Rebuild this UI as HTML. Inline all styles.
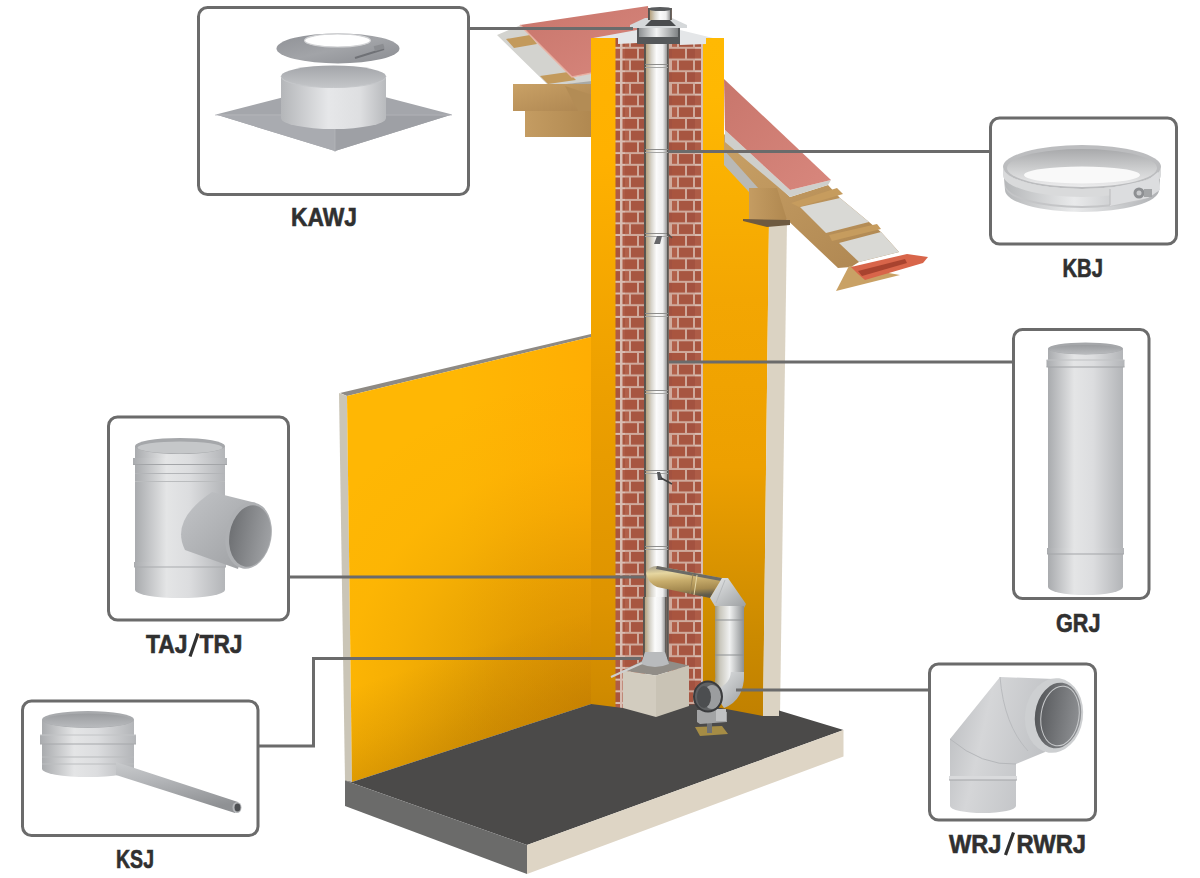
<!DOCTYPE html>
<html><head><meta charset="utf-8">
<style>
html,body{margin:0;padding:0;background:#fff;}
body{width:1200px;height:878px;overflow:hidden;position:relative;}
svg{position:absolute;left:0;top:0;}
</style></head>
<body>
<svg width="1200" height="878" viewBox="0 0 1200 878">
<defs>
  <linearGradient id="yel" x1="0" y1="0" x2="0" y2="1">
    <stop offset="0" stop-color="#fdb911"/><stop offset="1" stop-color="#f2a30c"/>
  </linearGradient>
  <pattern id="brick" x="0" y="2" width="24" height="23.4" patternUnits="userSpaceOnUse">
    <rect width="24" height="23.4" fill="#cfaa9c"/>
    <rect x="0" y="0" width="13" height="9.7" fill="#a9553f"/>
    <rect x="15" y="0" width="9" height="9.7" fill="#a35240"/>
    <rect x="0" y="11.7" width="5" height="9.7" fill="#b1604a"/>
    <rect x="7" y="11.7" width="14" height="9.7" fill="#a75641"/>
  </pattern>
  <linearGradient id="pipe" x1="0" y1="0" x2="1" y2="0">
    <stop offset="0" stop-color="#55524e"/><stop offset="0.06" stop-color="#5a5751"/>
    <stop offset="0.1" stop-color="#b9a684"/><stop offset="0.3" stop-color="#d8d5cc"/>
    <stop offset="0.5" stop-color="#fbfbfb"/><stop offset="0.75" stop-color="#eeeeee"/>
    <stop offset="0.9" stop-color="#a3a3a3"/><stop offset="0.94" stop-color="#5b5855"/>
    <stop offset="1" stop-color="#7d6d63"/>
  </linearGradient>
  <linearGradient id="yelL" gradientUnits="userSpaceOnUse" x1="420" y1="520" x2="560" y2="740">
    <stop offset="0" stop-color="#ffb604"/><stop offset="0.3" stop-color="#f8ae02"/><stop offset="0.6" stop-color="#e09a00"/>
    <stop offset="0.85" stop-color="#cc8a00"/><stop offset="1" stop-color="#c48300"/>
  </linearGradient>
  <linearGradient id="yelR" gradientUnits="userSpaceOnUse" x1="0" y1="38" x2="0" y2="720">
    <stop offset="0" stop-color="#ffb903"/><stop offset="0.085" stop-color="#ffb802"/><stop offset="0.384" stop-color="#f3a602"/>
    <stop offset="0.629" stop-color="#eda000"/><stop offset="0.878" stop-color="#cb8a00"/><stop offset="1" stop-color="#c08000"/>
  </linearGradient>
  <linearGradient id="wood" x1="0" y1="0" x2="1" y2="1">
    <stop offset="0" stop-color="#c9a166"/><stop offset="1" stop-color="#ad8550"/>
  </linearGradient>
  <linearGradient id="wood2" x1="0" y1="0" x2="1" y2="0">
    <stop offset="0" stop-color="#c49c62"/><stop offset="1" stop-color="#b08850"/>
  </linearGradient>
  <linearGradient id="tile" x1="0" y1="0" x2="1" y2="1">
    <stop offset="0" stop-color="#c8766c"/><stop offset="1" stop-color="#d8877d"/>
  </linearGradient>
  <pattern id="brickS" x="0" y="2" width="9" height="23.4" patternUnits="userSpaceOnUse">
    <rect width="9" height="23.4" fill="#d8bdb2"/>
    <rect x="1.5" y="0" width="6.5" height="9.7" fill="#ae5c47"/>
    <rect x="1.5" y="11.7" width="6.5" height="9.7" fill="#a8553f"/>
  </pattern>
  <linearGradient id="boxg" x1="0" y1="0" x2="1" y2="0">
    <stop offset="0" stop-color="#d8d0c3"/><stop offset="1" stop-color="#c6bdb0"/>
  </linearGradient>
  <linearGradient id="gold" x1="0" y1="0" x2="0.15" y2="1">
    <stop offset="0" stop-color="#a39e8c"/><stop offset="0.25" stop-color="#e6d6a0"/>
    <stop offset="0.5" stop-color="#c8ad6c"/><stop offset="0.8" stop-color="#a58a50"/><stop offset="1" stop-color="#5f5a4c"/>
  </linearGradient>
  <linearGradient id="elb" x1="0" y1="0" x2="1" y2="1">
    <stop offset="0" stop-color="#e8eaeb"/><stop offset="1" stop-color="#9a9d9f"/>
  </linearGradient>
  <linearGradient id="pipeV" x1="0" y1="0" x2="1" y2="0">
    <stop offset="0" stop-color="#8a7a4a"/><stop offset="0.25" stop-color="#c9c7bd"/>
    <stop offset="0.55" stop-color="#f0f1f1"/><stop offset="1" stop-color="#8d9092"/>
  </linearGradient>
  <linearGradient id="yelC" gradientUnits="userSpaceOnUse" x1="0" y1="38" x2="0" y2="710">
    <stop offset="0" stop-color="#ffb302"/><stop offset="0.177" stop-color="#ffb100"/><stop offset="0.539" stop-color="#ec9f00"/>
    <stop offset="0.836" stop-color="#de9400"/><stop offset="0.97" stop-color="#d08b00"/><stop offset="1" stop-color="#cc8800"/>
  </linearGradient>
  <linearGradient id="silH" x1="0" y1="0" x2="1" y2="0">
    <stop offset="0" stop-color="#a9abae"/><stop offset="0.35" stop-color="#e4e5e6"/>
    <stop offset="0.6" stop-color="#dcdddf"/><stop offset="1" stop-color="#b3b5b8"/>
  </linearGradient>
  <linearGradient id="silH2" x1="0" y1="0" x2="1" y2="0">
    <stop offset="0" stop-color="#b4b6b8"/><stop offset="0.45" stop-color="#e9eaeb"/>
    <stop offset="1" stop-color="#aeb0b3"/>
  </linearGradient>
  <linearGradient id="silDisc" x1="0" y1="0" x2="1" y2="1">
    <stop offset="0" stop-color="#8f9196"/><stop offset="0.5" stop-color="#a2a4a8"/><stop offset="1" stop-color="#8a8c91"/>
  </linearGradient>
  <linearGradient id="silBr" x1="0" y1="0" x2="1" y2="1">
    <stop offset="0" stop-color="#c3c5c8"/><stop offset="1" stop-color="#9c9ea1"/>
  </linearGradient>
  <linearGradient id="silE" x1="0" y1="0" x2="1" y2="1">
    <stop offset="0" stop-color="#c3c5c7"/><stop offset="0.5" stop-color="#dcdde0"/><stop offset="1" stop-color="#a8aaad"/>
  </linearGradient>
  <linearGradient id="kbjIn" x1="0" y1="0" x2="0" y2="1">
    <stop offset="0" stop-color="#a8a9ab"/><stop offset="0.55" stop-color="#cfd0d1"/><stop offset="1" stop-color="#ececed"/>
  </linearGradient>
  <linearGradient id="pipe2" x1="0" y1="0" x2="1" y2="0">
    <stop offset="0" stop-color="#8d9092"/><stop offset="0.45" stop-color="#f2f3f3"/><stop offset="1" stop-color="#7f8284"/>
  </linearGradient>
  <linearGradient id="drain" x1="0" y1="0" x2="0.25" y2="1">
    <stop offset="0" stop-color="#c9cbcd"/><stop offset="0.4" stop-color="#b4b6b9"/><stop offset="1" stop-color="#8f9194"/>
  </linearGradient>
  <linearGradient id="silW" x1="0" y1="0" x2="1" y2="0.3">
    <stop offset="0" stop-color="#b9bbbe"/><stop offset="0.4" stop-color="#d5d6d8"/><stop offset="1" stop-color="#bfc1c4"/>
  </linearGradient>
  <linearGradient id="wrjIn" x1="0" y1="0" x2="1" y2="0">
    <stop offset="0" stop-color="#55575a"/><stop offset="1" stop-color="#8f9194"/>
  </linearGradient>
  <linearGradient id="tajIn" x1="0" y1="0" x2="1" y2="0">
    <stop offset="0" stop-color="#6f7174"/><stop offset="1" stop-color="#9fa1a4"/>
  </linearGradient>
  <linearGradient id="silK" x1="0" y1="0" x2="1" y2="0">
    <stop offset="0" stop-color="#b4b6b9"/><stop offset="0.45" stop-color="#e6e7e9"/>
    <stop offset="0.75" stop-color="#dedfe1"/><stop offset="1" stop-color="#b8babd"/>
  </linearGradient>
  <linearGradient id="kawIn" x1="0" y1="0" x2="0" y2="1">
    <stop offset="0" stop-color="#a3a5a9"/><stop offset="1" stop-color="#c4c6c9"/>
  </linearGradient>
  <linearGradient id="grjIn" x1="0" y1="0" x2="0" y2="1">
    <stop offset="0" stop-color="#9a9c9f"/><stop offset="1" stop-color="#b9bbbe"/>
  </linearGradient>
  <linearGradient id="aoFloor" gradientUnits="userSpaceOnUse" x1="470" y1="743.5" x2="442.1" y2="657.9">
    <stop offset="0" stop-color="#8c5500" stop-opacity="0.28"/><stop offset="0.4" stop-color="#8c5500" stop-opacity="0.15"/>
    <stop offset="1" stop-color="#8c5500" stop-opacity="0"/>
  </linearGradient>
  <radialGradient id="aoCorner" gradientUnits="userSpaceOnUse" cx="591" cy="705" r="330">
    <stop offset="0" stop-color="#8c5500" stop-opacity="0.36"/><stop offset="0.3" stop-color="#8c5500" stop-opacity="0.25"/>
    <stop offset="0.6" stop-color="#8c5500" stop-opacity="0.08"/><stop offset="0.75" stop-color="#8c5500" stop-opacity="0.02"/>
    <stop offset="1" stop-color="#8c5500" stop-opacity="0"/>
  </radialGradient>
  <linearGradient id="orR" gradientUnits="userSpaceOnUse" x1="460" y1="0" x2="591" y2="0">
    <stop offset="0" stop-color="#ff9a00" stop-opacity="0"/><stop offset="1" stop-color="#ff9a00" stop-opacity="0.32"/>
  </linearGradient>
</defs>

<!-- ===== ILLUSTRATION ===== -->
<g id="illus">
  <!-- ===== LEFT ROOF ===== -->
  <polygon points="497,35 521,25 575,77 592,73 592,82 549,86" fill="#d3d3cf"/>
  <polygon points="549,86 592,81 592,84 551,88" fill="#a9a9a5"/>
  <polygon points="506,39 530,35 537,44 514,48" fill="#c39a5c"/>
  <polygon points="540,76 568,72 576,80 548,84" fill="#c39a5c"/>
  <polygon points="513,84 592,84 592,111 513,111" fill="url(#wood)"/>
  <polygon points="525,111 592,111 592,137 525,137" fill="url(#wood2)"/>
  <polygon points="565,86 592,95 592,111 578,111" fill="#b38c55"/>
  <polygon points="520,25 648,6 650,38 592,38 592,73 572,77" fill="url(#tile)"/>
  <polyline points="520,25 572,77 592,73" fill="none" stroke="#e8b0a2" stroke-width="1.5"/>

  <!-- left wall -->
  <polygon points="340,393 591,334 591,337 347,396" fill="#8e8a84"/>
  <polygon points="339,393 347,396 352,782 345,781" fill="#cac5b7"/>
  <polygon points="347,396 591,337 591,704 352,782" fill="#ffb704"/>
  <polygon points="347,396 591,337 591,704 352,782" fill="url(#aoFloor)"/>
  <polygon points="347,396 591,337 591,704 352,782" fill="url(#orR)"/>
  <polygon points="347,396 591,337 591,704 352,782" fill="url(#aoCorner)"/>

  <!-- ===== RIGHT ROOF ===== -->
  <polygon points="702,38 724,38 724,163 749,189 749,221 769,222 763,725 702,725" fill="url(#yelR)"/>
  <polygon points="769,221 787,221 780,716 763,716" fill="#dbd3c3"/>
  <!-- rafter -->
  <polygon points="724,134 790,197 828,185 840,198 869,222 881,232 899,252 859,262 851,267 838,268 724,160" fill="url(#wood)"/>
  <polygon points="724,150 759,189 749,192 724,165" fill="#b9b9b6"/>
  <polygon points="836,291 849,266 900,275" fill="#c9a165"/>
  <!-- wall plate -->
  <polygon points="749,188 777,188 787,220 749,220" fill="url(#wood2)"/>
  <polygon points="743,219 790,220 790,225 767,227 743,221" fill="#6e5a40"/>
  <!-- panels & battens -->
  <polygon points="800,207 840,198 869,222 826,233" fill="#d9d9d5"/>
  <polygon points="839,243 881,232 899,252 859,262" fill="#d9d9d5"/>
  <polygon points="791,203 837,188 843,194 799,207" fill="#c69c5e"/>
  <polygon points="829,235 877,224 881,229 832,241" fill="#c69c5e"/>
  <!-- underlayer + tiles -->
  <polygon points="725,130 790,190 831,180 828,185 790,197 725,142" fill="#cfcfcb"/>
  <polygon points="724,79 831,180 790,190 725,130" fill="url(#tile)"/>
  <!-- gutter -->
  <polygon points="851,267 907,254 928,257 923,263 865,280 858,274" fill="#d8654a"/>
  <polygon points="858,271 905,259 907,263 862,276" fill="#a8432f"/>

  <!-- chimney -->
  <rect x="591" y="38" width="25" height="680" fill="url(#yelC)"/>
  <rect x="615.5" y="38" width="9.5" height="680" fill="url(#brickS)"/>
  <rect x="625" y="38" width="20" height="680" fill="url(#brick)"/>
  <rect x="668" y="38" width="27" height="680" fill="url(#brick)"/>
  <rect x="695" y="38" width="8" height="680" fill="url(#brickS)"/>
  <rect x="644" y="38" width="25" height="630" fill="url(#pipe)"/>
  <rect x="645" y="64" width="23" height="1" fill="#8e8e8c"/>
  <rect x="645" y="67" width="23" height="1" fill="#a5a5a3"/>
  <rect x="645" y="149" width="23" height="1" fill="#8e8e8c"/>
  <rect x="645" y="152" width="23" height="1" fill="#a5a5a3"/>
  <rect x="645" y="233" width="23" height="1" fill="#8e8e8c"/>
  <rect x="645" y="236" width="23" height="1" fill="#a5a5a3"/>
  <rect x="645" y="313" width="23" height="1" fill="#8e8e8c"/>
  <rect x="645" y="316" width="23" height="1" fill="#a5a5a3"/>
  <rect x="645" y="390" width="23" height="1" fill="#8e8e8c"/>
  <rect x="645" y="393" width="23" height="1" fill="#a5a5a3"/>
  <rect x="645" y="470" width="23" height="1" fill="#8e8e8c"/>
  <rect x="645" y="473" width="23" height="1" fill="#a5a5a3"/>
  <rect x="645" y="546" width="23" height="1" fill="#8e8e8c"/>
  <rect x="645" y="549" width="23" height="1" fill="#a5a5a3"/>
  <polygon points="657,236 662,236 660,244 654,244" fill="#66676a"/>
  <line x1="667" y1="233" x2="672" y2="238" stroke="#55524e" stroke-width="1.5"/>
  <polygon points="657,472 660,472 663,480 658,480" fill="#55575a"/>
  <line x1="661" y1="478" x2="672" y2="484" stroke="#3f3f3f" stroke-width="1.5"/>


  <!-- chimney top -->
  <polygon points="593,38 637,30 637,43 618,44 618,38" fill="#e4e6e8"/>
  <polygon points="680,30 713,38 706,38 706,44 680,45" fill="#e4e6e8"/>
  <rect x="637" y="27.5" width="43" height="16.5" fill="#55585a"/>
  <rect x="639" y="28" width="39" height="9" fill="url(#pipe2)"/>
  <polygon points="630,25 645,18 672,18 687,25 687,28 630,28" fill="#d5d8da"/>
  <polygon points="651,20 670,20 676,26 645,26" fill="#4a4c4e"/>
  <rect x="648" y="8" width="24" height="12" fill="url(#pipe)"/>
  <ellipse cx="660" cy="9" rx="12" ry="2" fill="#595b5d"/>

  <!-- floor -->
  <polygon points="345,780.5 352,782 591,704 623,708 700,704 763,716 779,716 779,710.5 843.5,730 527,845" fill="#4b4a49"/>
  <polygon points="345,780.5 527,845 527,874 345,806" fill="#6b6b6a"/>
  <polygon points="527,845 843.5,730 843.5,756.5 527,874" fill="#ded5c5"/>
  <!-- base box -->
  <polygon points="623,670.5 650,657 689,665.5 656,675.5" fill="#918d87"/>
  <polygon points="623,670.5 656,675.5 656,717 623,708" fill="#d2ccbf"/>
  <polygon points="656,675.5 689,665.5 689,706 656,717" fill="#c9c3b5"/>
  <!-- lower main pipe -->
  <rect x="643" y="597" width="24" height="60" fill="url(#pipe)"/>
  <path d="M645,652 L665,652 L669,664 Q655,670 641,664 Z" fill="#b9bbbd"/>
  <line x1="611" y1="677" x2="642" y2="663" stroke="#d0d0d0" stroke-width="2"/>
  <!-- tee branch (gold) -->
  <path d="M646,573 Q649,566 657,566 L722,578 L710,598 L657,587 Q648,583 646,573 Z" fill="url(#gold)"/>
  <path d="M657,566 L722,578 L721,581 L656,569 Z" fill="#6b6a66"/>
  <line x1="693" y1="574" x2="690" y2="594" stroke="#9a8555" stroke-width="1"/>
  <line x1="697" y1="575" x2="694" y2="595" stroke="#e6d8a8" stroke-width="1"/>
  <!-- elbow -->
  <polygon points="722,578 728,578 746,604 744,608 716,608 710,598" fill="url(#elb)"/>
  <line x1="725" y1="580" x2="716" y2="603" stroke="#b7babc" stroke-width="1"/>
  <!-- vertical pipe -->
  <path d="M715,606 L744,606 L744,680 Q740,698 727,705 L712,690 Q716,684 715,670 Z" fill="url(#pipeV)"/>
  <line x1="715" y1="620" x2="744" y2="620" stroke="#8d9092" stroke-width="1"/>
  <line x1="715" y1="655" x2="744" y2="655" stroke="#8d9092" stroke-width="1"/>
  <!-- boot -->
  <polygon points="695,727 722,726 728,734 700,736" fill="#a58c45"/>
  <rect x="707" y="718" width="5" height="15" fill="#6f7173"/>
  <polygon points="697,710 718,709 727,712 727,722 700,724 697,722" fill="#a3a4a5"/>
  <rect x="716" y="709" width="10" height="12" fill="#c0c1c2"/>
  <path d="M744,672 Q745,700 724,708 L712,690 Q730,686 731,672 Z" fill="url(#elb)"/>
  <ellipse cx="708" cy="696.5" rx="14" ry="15" fill="#5f6163"/>
  <ellipse cx="712" cy="697" rx="9" ry="12" fill="#9b9d9f"/>
  <ellipse cx="704" cy="697" rx="7" ry="11" fill="#4c4e50"/>
  <ellipse cx="708" cy="696.5" rx="14" ry="15" fill="none" stroke="#3a3b3d" stroke-width="2"/>
</g>


<!-- ===== PRODUCTS ===== -->
<g id="products">
  <!-- KAWJ -->
  <polygon points="216,114.6 335,84 452,114.6 335,151" fill="#a4a6ab"/>
  <polygon points="216,114.6 335,114.6 335,151" fill="#a9abb0"/>
  <polygon points="335,114.6 452,114.6 335,151" fill="#9ea0a5"/>
  <line x1="215" y1="115" x2="452" y2="115" stroke="#b6b8bc" stroke-width="0.8"/>
  <line x1="335" y1="115" x2="335" y2="152" stroke="#b3b5b9" stroke-width="0.8"/>
  <path d="M281,76.5 L386,76.5 L386,118 A52.5,11 0 0 1 281,118 Z" fill="url(#silK)"/>
  <path d="M281,76.5 A52.5,11 0 0 1 386,76.5 A52.5,11 0 0 1 281,76.5 Z" fill="url(#kawIn)"/>
  <path d="M281,76.5 A52.5,11 0 0 0 386,76.5" fill="none" stroke="#c5c7ca" stroke-width="1"/>
  <ellipse cx="338" cy="48.4" rx="61.5" ry="15" fill="url(#silDisc)"/>
  <ellipse cx="337.5" cy="40.5" rx="33" ry="6.5" fill="#ffffff"/>
  <ellipse cx="337.5" cy="40.5" rx="33" ry="6.5" fill="none" stroke="#d2d3d5" stroke-width="1.2"/>
  <line x1="355" y1="58" x2="384" y2="49" stroke="#6f7176" stroke-width="2"/>
  <rect x="374" y="45" width="10" height="5" fill="#8b8d91" transform="rotate(-15 379 47)"/>

  <!-- KBJ -->
  <path d="M1003,167 A79,22 0 0 0 1161,167 L1159,190 A77,22 0 0 1 1005,190 Z" fill="url(#silH2)"/>
  <ellipse cx="1082" cy="167" rx="79" ry="22" fill="#bcbdbf"/>
  <ellipse cx="1082" cy="168" rx="75" ry="19" fill="url(#kbjIn)"/>
  <ellipse cx="1082" cy="175" rx="58" ry="8.5" fill="#f9f9f9"/>
  <path d="M1003,167 A79,22 0 0 0 1161,167 L1161,175 A79,22 0 0 1 1003,175 Z" fill="#d9dadb"/>
  <path d="M1005,184 A77,22 0 0 0 1159,184 L1159,186 A77,22 0 0 1 1005,186 Z" fill="#c4c5c7"/>
  <polygon points="1110,188 1148,180 1158,172 1160,190 1148,198 1110,206" fill="#dcdddf"/>
  <line x1="1110" y1="189" x2="1110" y2="205" stroke="#b9babc" stroke-width="1"/>
  <circle cx="1139" cy="193" r="5.5" fill="#8d8f92"/>
  <circle cx="1139" cy="193" r="2.5" fill="#c9cacc"/>
  <rect x="1144" y="189" width="8" height="8" fill="#a3a5a7"/>
  <!-- GRJ -->
  <path d="M1048,348.5 L1123,348.5 L1123,587 A37.5,8 0 0 1 1048,587 Z" fill="url(#silH)"/>
  <rect x="1046.5" y="360" width="78" height="7" fill="url(#silH)"/>
  <line x1="1046.5" y1="367" x2="1124.5" y2="367" stroke="#a2a4a7" stroke-width="1"/>
  <line x1="1046.5" y1="360" x2="1124.5" y2="360" stroke="#c0c2c4" stroke-width="1"/>
  <rect x="1047" y="548" width="77" height="6" fill="url(#silH)"/>
  <line x1="1047" y1="554" x2="1124" y2="554" stroke="#a3a5a8" stroke-width="1"/>
  <ellipse cx="1085.5" cy="348.5" rx="37.5" ry="6" fill="#a5a7aa"/>
  <ellipse cx="1085.5" cy="349.5" rx="35.5" ry="4.5" fill="url(#grjIn)"/>
  <!-- TAJ -->
  <path d="M135,446 L225,446 L225,590 A45,8 0 0 1 135,590 Z" fill="url(#silH)"/>
  <rect x="133" y="458" width="94" height="6" fill="url(#silH)"/>
  <line x1="133" y1="464.5" x2="227" y2="464.5" stroke="#a3a5a8" stroke-width="1"/>
  <line x1="135" y1="473.5" x2="225" y2="473.5" stroke="#b3b5b8" stroke-width="1"/>
  <line x1="135" y1="481.5" x2="225" y2="481.5" stroke="#babcbe" stroke-width="1"/>
  <rect x="134" y="562" width="92" height="5" fill="url(#silH)"/>
  <line x1="134" y1="567" x2="226" y2="567" stroke="#a9abae" stroke-width="1"/>
  <ellipse cx="180" cy="446" rx="45" ry="8" fill="#a5a7aa"/>
  <ellipse cx="180" cy="447.5" rx="42.5" ry="6" fill="#c5c7c9"/>
  <path d="M212,492 L256,503 L238,569 L185,550 Q170,520 212,492 Z" fill="url(#silBr)"/>
  <ellipse cx="248.5" cy="535.5" rx="23" ry="33.5" transform="rotate(10 248.5 535.5)" fill="#aeb0b3"/>
  <ellipse cx="250" cy="536" rx="20.5" ry="31" transform="rotate(10 250 536)" fill="url(#tajIn)"/>
  <!-- KSJ -->
  <path d="M42,719.5 L134,719.5 L134,769 A46,8 0 0 1 42,769 Z" fill="url(#silH)"/>
  <rect x="40" y="735" width="96" height="9" fill="url(#silH)"/>
  <line x1="40" y1="735" x2="136" y2="735" stroke="#c2c4c6" stroke-width="1"/>
  <line x1="40" y1="744" x2="136" y2="744" stroke="#a6a8ab" stroke-width="1"/>
  <line x1="42" y1="757" x2="134" y2="757" stroke="#b9bbbd" stroke-width="1"/>
  <line x1="42" y1="764" x2="134" y2="764" stroke="#bcbec0" stroke-width="1"/>
  <ellipse cx="88" cy="719.5" rx="46" ry="8.5" fill="#a8aaad"/>
  <ellipse cx="88" cy="720.5" rx="44" ry="7" fill="url(#grjIn)"/>
  <polygon points="116,762 238,802 235,813 116,775" fill="url(#drain)"/>
  <ellipse cx="237" cy="807.5" rx="4.5" ry="5.5" fill="#b5b7ba"/>
  <ellipse cx="237.5" cy="807.5" rx="3" ry="4" fill="#4e5053"/>
  <!-- WRJ -->
  <path d="M950,806 L950,739 L1000,677 L1054,679 L1045,752 L1016,764 L1016,806 A33,7 0 0 1 950,806 Z" fill="url(#silW)"/>
  <path d="M950,739 Q982,766 1016,764" fill="none" stroke="#b5b7ba" stroke-width="1"/>
  <path d="M1000,677 Q1004,725 1028,751" fill="none" stroke="#b9bbbe" stroke-width="1"/>
  <rect x="949" y="776" width="68" height="4" fill="#d9dadc"/>
  <line x1="949" y1="780" x2="1017" y2="780" stroke="#a3a5a8" stroke-width="1"/>
  <ellipse cx="1054" cy="715.5" rx="29" ry="37.5" transform="rotate(8 1054 715.5)" fill="#cdcfd1"/>
  <ellipse cx="1058" cy="715.5" rx="23" ry="33" transform="rotate(8 1058 715.5)" fill="url(#wrjIn)"/>
  <ellipse cx="1060" cy="716" rx="19" ry="30" transform="rotate(8 1060 716)" fill="none" stroke="#c9cbcd" stroke-width="1"/>
</g>

<!-- ===== CALLOUT BOXES ===== -->
<g fill="none" stroke="#6b6b6b" stroke-width="3">
  <rect x="198.5" y="7.5" width="270" height="187" rx="9"/>
  <rect x="990.5" y="118" width="186" height="126" rx="9"/>
  <rect x="1013.5" y="329.5" width="135.5" height="269" rx="9"/>
  <rect x="108.5" y="417" width="180" height="203" rx="9"/>
  <rect x="22.5" y="701" width="235.5" height="134.5" rx="9"/>
  <rect x="929.5" y="664" width="166" height="156" rx="9"/>
  <!-- connectors -->
  <polyline points="468.5,28.5 633,28.5"/>
  <polyline points="668,151.5 990.5,151.5"/>
  <polyline points="669,362 1013.5,362"/>
  <polyline points="288.5,577 645,577"/>
  <polyline points="258,746 313.5,746 313.5,658.5 641,658.5"/>
  <polyline points="736,690 929.5,690"/>
</g>

<!-- ===== LABELS ===== -->
<g font-family="'Liberation Sans', sans-serif" font-weight="bold" fill="#303030" stroke="#303030" stroke-width="0.6" font-size="25">
  <text x="291" y="226" textLength="66" lengthAdjust="spacingAndGlyphs">KAWJ</text>
  <text x="1062.5" y="277" textLength="40.5" lengthAdjust="spacingAndGlyphs">KBJ</text>
  <text x="1056" y="631.5" textLength="44.5" lengthAdjust="spacingAndGlyphs">GRJ</text>
  <text x="146" y="653" textLength="41.5" lengthAdjust="spacingAndGlyphs">TAJ</text>
  <text x="199.5" y="653" textLength="43" lengthAdjust="spacingAndGlyphs">TRJ</text>
  <line x1="198" y1="633.5" x2="190" y2="656.5" stroke-width="3.2"/>
  <text x="116" y="868" textLength="38" lengthAdjust="spacingAndGlyphs">KSJ</text>
  <text x="949" y="852.5" textLength="52.5" lengthAdjust="spacingAndGlyphs">WRJ</text>
  <text x="1016.5" y="852.5" textLength="69.5" lengthAdjust="spacingAndGlyphs">RWRJ</text>
  <line x1="1013.5" y1="832.5" x2="1005.5" y2="855" stroke-width="3.2"/>
</g>
</svg>
</body></html>
